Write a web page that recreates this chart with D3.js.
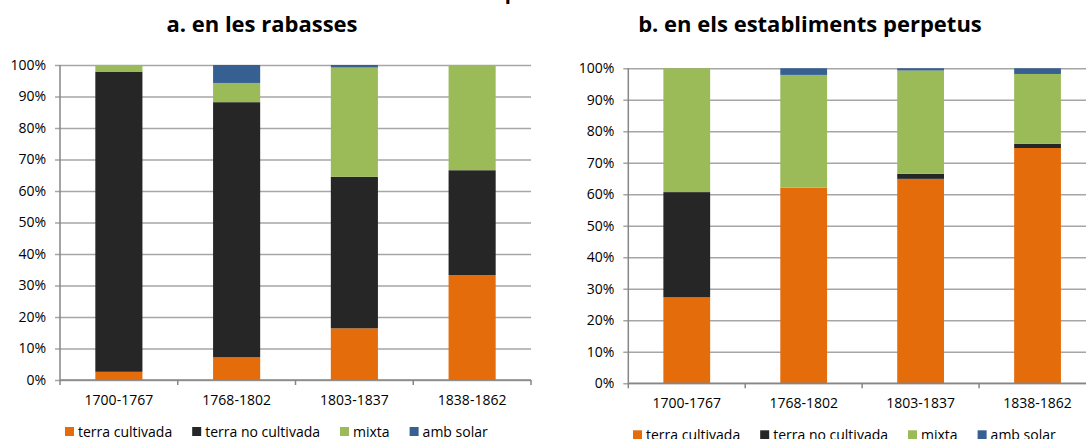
<!DOCTYPE html>
<html>
<head>
<meta charset="utf-8">
<script src="https://cdn.jsdelivr.net/npm/d3@7"></script>
<style>
  body { margin: 0; background: #fff; }
  svg { display: block; font-family: "Open Sans", sans-serif; }
</style>
</head>
<body>
<svg id="chart" width="1086" height="439"></svg>
<script>
// periods on the x axis
var categories = ["1700-1767", "1768-1802", "1803-1837", "1838-1862"];
var seriesNames = ["terra cultivada", "terra no cultivada", "mixta", "amb solar"];
var seriesColors = ["#e46c0a", "#262626", "#9bbb59", "#376092"];

// a. en les rabasses (percent of each period)
var rabCultivada = [2.6, 7.2, 16.4, 33.3];
var rabNoCultivada = [95.3, 81.0, 48.1, 33.3];
var rabMixta = [2.1, 6.1, 34.7, 33.4];
var rabSolar = [0, 5.7, 0.8, 0];

// b. en els establiments perpetus
var estCultivada = [27.3, 62.1, 64.9, 74.7];
var estNoCultivada = [33.4, 0, 1.6, 1.3];
var estMixta = [39.3, 35.8, 32.8, 22.2];
var estSolar = [0, 2.1, 0.7, 1.8];

var yTicks = [0, 10, 20, 30, 40, 50, 60, 70, 80, 90, 100];

var svg = d3.select("#chart");

// only the descender of the main title shows at the top edge
svg.append("text")
    .attr("x", 511).attr("y", -1)
    .attr("text-anchor", "middle")
    .style("font-weight", "bold").style("font-size", "20px")
    .attr("fill", "#000")
    .text("p");

drawPanel({
    title: "a. en les rabasses", titleX: 262,
    series: [rabCultivada, rabNoCultivada, rabMixta, rabSolar],
    left: 60, right: 531, top: 65, bottom: 380,
    legendX: 65
});

drawPanel({
    title: "b. en els establiments perpetus", titleX: 810,
    series: [estCultivada, estNoCultivada, estMixta, estSolar],
    left: 628.3, right: 1096, top: 68.3, bottom: 383.3,
    legendX: 633
});

function drawPanel(p) {
    var g = svg.append("g");

    // build rows for d3.stack
    var rows = categories.map(function(c, i) {
        var row = { cat: c };
        seriesNames.forEach(function(s, j) { row[s] = p.series[j][i]; });
        return row;
    });

    var x = d3.scaleBand()
        .domain(categories)
        .range([p.left, p.right])
        .paddingInner(0.6)
        .paddingOuter(0.3);

    var y = d3.scaleLinear()
        .domain([0, 100])
        .range([p.bottom, p.top]);

    // title
    g.append("text")
        .attr("x", p.titleX).attr("y", 32)
        .attr("text-anchor", "middle")
        .style("font-weight", "bold").style("font-size", "22px")
        .attr("fill", "#000")
        .text(p.title);

    // gridlines + y labels
    var yAxis = g.append("g")
        .attr("transform", "translate(" + p.left + ",0)")
        .call(d3.axisLeft(y).tickValues(yTicks).tickSize(-(p.right - p.left)).tickPadding(14)
            .tickFormat(function(d) { return d + "%"; }));
    yAxis.select(".domain").remove();
    yAxis.selectAll(".tick line")
        .attr("x1", -5)
        .attr("stroke", "#a6a6a6").attr("stroke-width", 1.5);
    yAxis.selectAll(".tick text")
        .attr("fill", "#000")
        .style("font-size", "14px").style("font-family", "'Open Sans', sans-serif");

    // stacked bars
    var stacked = d3.stack().keys(seriesNames)(rows);
    g.selectAll("g.layer")
        .data(stacked)
        .join("g")
        .attr("class", "layer")
        .attr("fill", function(d, i) { return seriesColors[i]; })
        .selectAll("rect")
        .data(function(d) { return d; })
        .join("rect")
        .attr("x", function(d) { return x(d.data.cat); })
        .attr("width", x.bandwidth())
        .attr("y", function(d) { return y(d[1]); })
        .attr("height", function(d) { return y(d[0]) - y(d[1]); });

    // axis lines
    g.append("line")
        .attr("x1", p.left).attr("x2", p.left)
        .attr("y1", p.top).attr("y2", p.bottom)
        .attr("stroke", "#868686").attr("stroke-width", 1.5);

    var xAxis = g.append("g")
        .attr("transform", "translate(0," + p.bottom + ")")
        .call(d3.axisBottom(x).tickSize(0).tickPadding(15));
    xAxis.select(".domain")
        .attr("d", "M" + p.left + ",0H" + p.right)
        .attr("stroke", "#868686").attr("stroke-width", 1.5);
    xAxis.selectAll(".tick text")
        .attr("fill", "#000")
        .style("font-size", "14px").style("font-family", "'Open Sans', sans-serif");

    // tick marks between categories
    var step = x.step();
    xAxis.selectAll("line.sep")
        .data(d3.range(categories.length + 1))
        .join("line")
        .attr("class", "sep")
        .attr("x1", function(i) { return p.left + i * step; })
        .attr("x2", function(i) { return p.left + i * step; })
        .attr("y1", 0).attr("y2", 5)
        .attr("stroke", "#868686").attr("stroke-width", 1.5);

    // legend
    var legY = p.bottom + 47;
    var cx = p.legendX;
    seriesNames.forEach(function(s, i) {
        g.append("rect")
            .attr("x", cx).attr("y", legY)
            .attr("width", 9).attr("height", 9)
            .attr("fill", seriesColors[i]);
        var t = g.append("text")
            .attr("x", cx + 13).attr("y", legY + 10)
            .attr("fill", "#000")
            .style("font-size", "14px")
            .text(s);
        cx = cx + 13 + t.node().getComputedTextLength() + 20;
    });
}
</script>
</body>
</html>
